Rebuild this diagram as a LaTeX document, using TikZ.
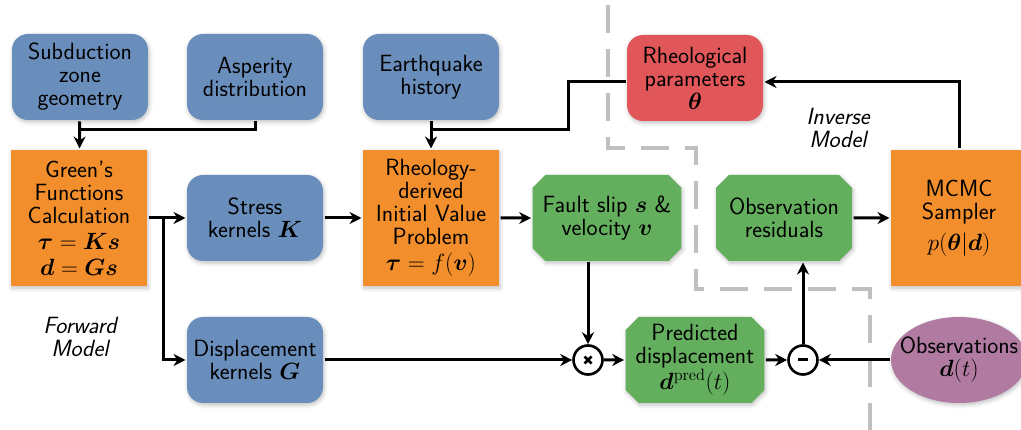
\documentclass[tikz,border=0pt]{standalone}
\usepackage{fix-cm}
\usepackage{amsmath, bm}
\usetikzlibrary{positioning, shapes.misc, shapes.geometric, arrows.meta, shadows.blur}
\definecolor{inblue}{RGB}{106,142,187}
\definecolor{calcorange}{RGB}{242,142,43}
\definecolor{paramred}{RGB}{225,87,89}
\definecolor{outgreen}{RGB}{100,175,94}
\definecolor{datapurple}{RGB}{176,122,161}
\tikzset{
  base/.style={font=\sffamily\fontsize{23.5}{23}\selectfont, align=center, inner sep=0pt,
    blur shadow={shadow xshift=1pt, shadow yshift=-2pt, shadow blur radius=4pt, shadow opacity=25}},
  inbox/.style={base, rounded corners=16pt, fill=inblue, minimum width=136pt, minimum height=86pt},
  parambox/.style={inbox, fill=paramred},
  calcbox/.style={base, fill=calcorange, minimum width=136pt, minimum height=136pt},
  outbox/.style={base, chamfered rectangle, chamfered rectangle xsep=10pt, fill=outgreen,
    minimum width=136pt, minimum height=86pt},
  databox/.style={base, ellipse, fill=datapurple, minimum width=136pt, minimum height=86pt},
  opnode/.style={circle, draw, fill=white, line width=2.6pt, minimum size=29pt, inner sep=0pt},
  timesop/.style={opnode, path picture={
      \draw[line width=2.8pt] (path picture bounding box.center) ++(-3.5pt,-3.5pt) -- ++(7pt,7pt)
        (path picture bounding box.center) ++(-3.5pt,3.5pt) -- ++(7pt,-7pt);}},
  minusop/.style={opnode, path picture={
      \draw[line width=3pt] (path picture bounding box.center) ++(-5pt,0pt) -- ++(10pt,0pt);}},
  modeltag/.style={font=\sffamily\itshape\fontsize{23.5}{23}\selectfont, align=center},
  region/.style={draw=black!25, line width=4pt, dash pattern=on 28pt off 16pt},
}
\begin{document}
\begin{tikzpicture}[x=1pt, y=-1pt, >={Stealth[length=12pt, width=12pt]}, line width=3pt]
  \useasboundingbox (0,0) rectangle (1021,430);
  %limite forward / inverse
  \draw[region] (608,5) -- (608,148) -- (696,148) -- (696,289) -- (870,289) -- (870,430);
  %ingressi
  \node[inbox] (subduction) at (80,77) {Subduction\\zone\\geometry};
  \node[inbox] (asperity) at (255,77) {Asperity\\distribution};
  \node[inbox] (quakehist) at (431,77) {Earthquake\\history};
  \node[parambox] (rheoparam) at (695,78) {Rheological\\parameters\\$\bm{\theta}$};
  %riga centrale
  \node[calcbox] (greens) at (79,218) {Green's\\Functions\\Calculation\\[3pt]$\bm{\tau}=\bm{Ks}$\\[3pt]$\bm{d}=\bm{Gs}$};
  \node[inbox] (stress) at (255,218) {Stress\\kernels $\bm{K}$};
  \node[calcbox] (ivp) at (431,218) {Rheology-\\derived\\Initial Value\\Problem\\[3pt]$\bm{\tau}=f(\bm{v})$};
  \node[outbox] (faultslip) at (607,218) {Fault slip $\bm{s}$ \&\\velocity $\bm{v}$};
  \node[outbox] (obsres) at (784,218) {Observation\\residuals};
  \node[calcbox] (mcmc) at (959,218) {MCMC\\Sampler\\[8pt]$p(\bm{\theta}|\bm{d})$};
  %riga bassa
  \node[inbox] (dispker) at (255,360) {Displacement\\kernels $\bm{G}$};
  \node[timesop] (mult) at (588,360) {};
  \node[outbox] (preddisp) at (695,360) {Predicted\\displacement\\$\bm{d}^{\mathrm{pred}}(t)$};
  \node[minusop] (minus) at (803,360) {};
  \node[databox] (obs) at (959,360) {\makebox[0pt]{Observations}\\$\bm{d}(t)$};
  %etichette
  \node[modeltag] (fwdtag) at (80,337) {Forward\\Model};
  \node[modeltag] (invtag) at (838,128) {Inverse\\Model};
  %punti di giunzione
  \coordinate (geojoin) at (80,130);
  \coordinate (rheojoin) at (431,130);
  \coordinate (rheobend) at (568,82);
  \coordinate (split) at (163,218);
  %collegamenti
  \draw[->] (subduction) -- (greens);
  \draw (asperity.south) |- (geojoin);
  \draw[->] (quakehist) -- (ivp);
  \draw (rheoparam.west |- rheobend) -- (rheobend) |- (rheojoin);
  \draw[->] (mcmc.north) |- (rheoparam.east |- rheobend);
  \draw[->] (greens) -- (stress);
  \draw[->] (split) |- (dispker);
  \draw[->] (stress) -- (ivp);
  \draw[->] (ivp) -- (faultslip);
  \draw[->] (mult |- faultslip.south) -- (mult);
  \draw[->] (dispker) -- (mult);
  \draw[->] (mult) -- (preddisp);
  \draw[->] (preddisp) -- (minus);
  \draw[->] (obs) -- (minus);
  \draw[->] (minus) -- (minus |- obsres.south);
  \draw[->] (obsres) -- (mcmc);
\end{tikzpicture}
\end{document}
